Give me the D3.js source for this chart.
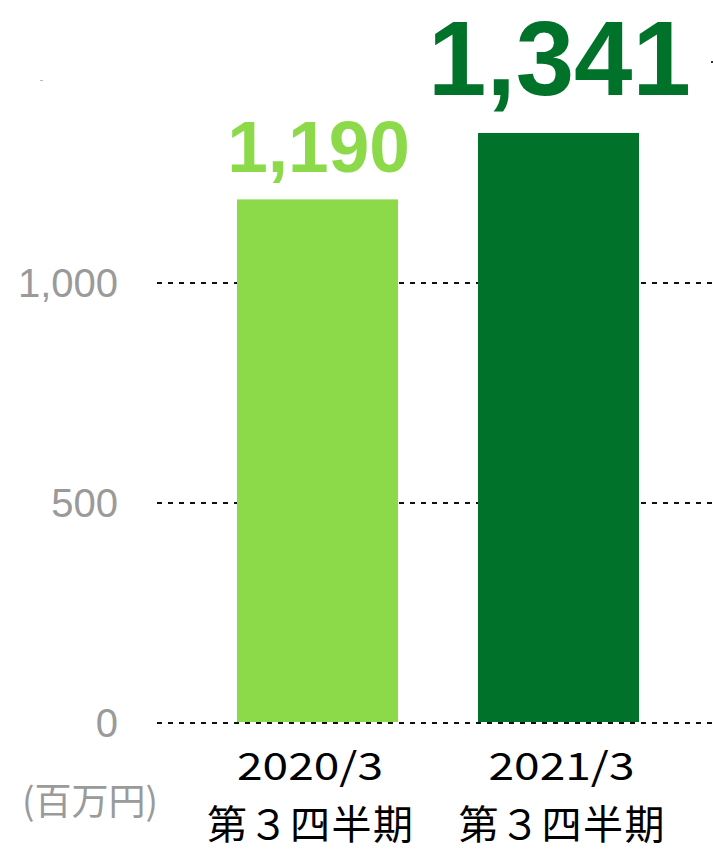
<!DOCTYPE html>
<html><head><meta charset="utf-8">
<script src="https://cdn.jsdelivr.net/npm/d3@7"></script>
<style>html,body{margin:0;padding:0;background:#fff;}svg{display:block;}</style>
</head><body>
<script>
const categories = ["2020/3", "2021/3"];
const subLabels = ["第３四半期", "第３四半期"];
const values = [1190, 1341];
const valueLabels = ["1,190", "1,341"];
const tickValues = [0, 500, 1000];
const tickLabels = ["0", "500", "1,000"];
const unitLabel = "(百万円)";
const barColors = ["#8cda4a", "#007229"];

const W = 713, H = 851;
const svg = d3.select("body").append("svg").attr("width", W).attr("height", H);

const y = d3.scaleLinear().domain([0, 1000]).range([723, 283]);
const x = d3.scaleBand().domain(categories).range([237, 639]).paddingInner(80/241).paddingOuter(0);

// gridlines
svg.append("g").selectAll("line").data(tickValues).join("line")
  .attr("x1", 157).attr("x2", W)
  .attr("y1", d => y(d)).attr("y2", d => y(d))
  .attr("stroke", "#111").attr("stroke-width", 2).attr("stroke-dasharray", "5,6");

// y tick labels
svg.append("g").selectAll("text").data(tickValues).join("text")
  .attr("x", 118).attr("y", d => y(d) + 14)
  .attr("text-anchor", "end")
  .attr("font-family", "Liberation Sans, Arial, sans-serif")
  .attr("font-size", 40).attr("fill", "#9a9a9a")
  .text((d, i) => tickLabels[i]);

// bars
svg.append("g").selectAll("rect").data(values).join("rect")
  .attr("x", (d, i) => x(categories[i]))
  .attr("width", x.bandwidth())
  .attr("y", d => y(d))
  .attr("height", d => y(0) - y(d) - 1)
  .attr("fill", (d, i) => barColors[i]);

// value labels
const valueSizes = [73, 105];
svg.append("g").selectAll("text").data(values).join("text")
  .attr("x", (d, i) => x(categories[i]) + x.bandwidth() / 2 + 1)
  .attr("y", (d, i) => i === 0 ? 172 : 95)
  .attr("text-anchor", "middle")
  .attr("font-family", "Liberation Sans, Arial, sans-serif")
  .attr("font-weight", "bold")
  .attr("font-size", (d, i) => valueSizes[i])
  .attr("fill", (d, i) => barColors[i])
  .text((d, i) => valueLabels[i]);

// category labels
const catOffsets = [-7.5, 3];
svg.append("g").selectAll("text").data(categories).join("text")
  .attr("x", (d, i) => x(d) + x.bandwidth() / 2 + catOffsets[i])
  .attr("y", 780)
  .attr("text-anchor", "middle")
  .attr("font-family", "Noto Sans CJK JP, sans-serif")
  .attr("font-size", 38).attr("fill", "#000")
  .attr("textLength", 146).attr("lengthAdjust", "spacingAndGlyphs")
  .text(d => d);

svg.append("g").selectAll("text").data(subLabels).join("text")
  .attr("x", (d, i) => x(categories[i]) + x.bandwidth() / 2 + catOffsets[i])
  .attr("y", 839)
  .attr("text-anchor", "middle")
  .attr("font-family", "Noto Sans CJK JP, sans-serif")
  .attr("font-size", 40).attr("fill", "#000")
  .attr("textLength", 206).attr("lengthAdjust", "spacing")
  .text(d => d);

// unit label
svg.append("text").attr("x", 90).attr("y", 815)
  .attr("text-anchor", "middle")
  .attr("font-family", "Noto Sans CJK JP, sans-serif")
  .attr("font-size", 37).attr("fill", "#9a9a9a")
  .text(unitLabel);

// small stray marks
svg.append("rect").attr("x", 40).attr("y", 80).attr("width", 3).attr("height", 1).attr("fill", "#bbb");
svg.append("rect").attr("x", 711).attr("y", 61).attr("width", 2).attr("height", 2).attr("fill", "#333");
</script>
</body></html>
